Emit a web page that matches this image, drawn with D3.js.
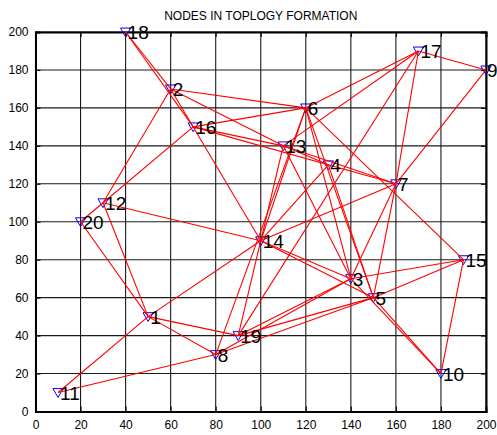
<!DOCTYPE html>
<html><head><meta charset="utf-8">
<script src="https://cdn.jsdelivr.net/npm/d3@7"></script>
<style>body{margin:0;background:#fff}svg{display:block}</style>
</head><body>
<svg id="c" width="497" height="435"></svg>
<script>
// ---- data ----
const nodeIds = [1,2,3,4,5,6,7,8,9,10,11,12,13,14,15,16,17,18,19,20];
const nodeX   = [50,60,140,130,150,120,160,80,200,180,10,30,110,100,190,70,170,40,90,20];
const nodeY   = [50,170,70,130,60,160,120,30,180,20,10,110,140,90,80,150,190,200,40,100];
const edgeFrom = [1,1,1,1,1,1, 11, 12,12,12,12, 18,18, 2,2,2, 16,16,16, 17,17,17,17,17, 9, 6,6,6,6,6, 13,13,13,13, 7,7,7, 14,14, 3,3,3,3, 5,5,5,5, 15, 4,4];
const edgeTo   = [11,14,20,12,19,8, 8, 2,16,20,14, 2,16, 14,6,13, 6,13,7, 6,9,13,7,19, 7, 14,3,5,15,8, 4,7,19,3, 14,3,5, 3,5, 15,10,19,8, 15,10,19,8, 10, 5,14];
const xTicks = [0,20,40,60,80,100,120,140,160,180,200];
const yTicks = [0,20,40,60,80,100,120,140,160,180,200];
const title = "NODES IN TOPLOGY FORMATION";

const svg = d3.select("#c");
const x = d3.scaleLinear().domain([0,200]).range([35.5,486]);
const y = d3.scaleLinear().domain([0,200]).range([411.5,32]);
const pos = id => { const i = nodeIds.indexOf(id); return [x(nodeX[i]), y(nodeY[i])]; };

// grid
const g = svg.append("g");
g.selectAll("line.gx").data(xTicks).join("line")
  .attr("x1",d=>x(d)).attr("x2",d=>x(d)).attr("y1",y(0)).attr("y2",y(200))
  .attr("stroke","#1a1a1a").attr("stroke-width",1.1);
g.selectAll("line.gy").data(yTicks).join("line")
  .attr("y1",d=>y(d)).attr("y2",d=>y(d)).attr("x1",x(0)).attr("x2",x(200))
  .attr("stroke","#1a1a1a").attr("stroke-width",1.1);

// axes
const fontAxis = "Liberation Sans, Arial, sans-serif";
const xa = svg.append("g").attr("transform",`translate(0,${y(0)})`)
  .call(d3.axisBottom(x).tickValues(xTicks).tickSize(-5).tickPadding(9).tickFormat(d3.format("d")));
const ya = svg.append("g").attr("transform",`translate(${x(0)},0)`)
  .call(d3.axisLeft(y).tickValues(yTicks).tickSize(-5).tickPadding(7).tickFormat(d3.format("d")));
const xt = svg.append("g").attr("transform",`translate(0,${y(200)})`)
  .call(d3.axisTop(x).tickValues(xTicks).tickSize(-5).tickFormat(""));
const yr = svg.append("g").attr("transform",`translate(${x(200)},0)`)
  .call(d3.axisRight(y).tickValues(yTicks).tickSize(-5).tickFormat(""));
[xa,ya,xt,yr].forEach(a=>{
  a.select(".domain").attr("stroke","#000").attr("stroke-width",2);
  a.selectAll(".tick line").attr("stroke","#000");
  a.selectAll("text").attr("font-family",fontAxis).attr("font-size",12).attr("fill","#000");
});

// markers
const tri = d3.symbol().type(d3.symbolTriangle).size(45);
svg.append("g").selectAll("path").data(nodeIds).join("path")
  .attr("d",tri)
  .attr("transform",d=>{const p=pos(d);return `translate(${p[0]},${p[1]-1}) rotate(180)`;})
  .attr("fill","none").attr("stroke","#0000ff").attr("stroke-width",1);

// edges
svg.append("g").selectAll("line").data(edgeFrom.map((f,i)=>[f,edgeTo[i]])).join("line")
  .attr("x1",d=>pos(d[0])[0]).attr("y1",d=>pos(d[0])[1])
  .attr("x2",d=>pos(d[1])[0]).attr("y2",d=>pos(d[1])[1])
  .attr("stroke","#ff0000").attr("stroke-width",1.1);

// labels
svg.append("g").selectAll("text").data(nodeIds).join("text")
  .attr("x",d=>pos(d)[0]+(d===9?1:2)).attr("y",d=>pos(d)[1]+7)
  .attr("font-family",fontAxis).attr("font-size",19).attr("fill","#000")
  .text(d=>d);

svg.append("text").attr("x",260.75).attr("y",20).attr("text-anchor","middle")
  .attr("font-family",fontAxis).attr("font-size",12).attr("fill","#000").text(title);
</script>
</body></html>
